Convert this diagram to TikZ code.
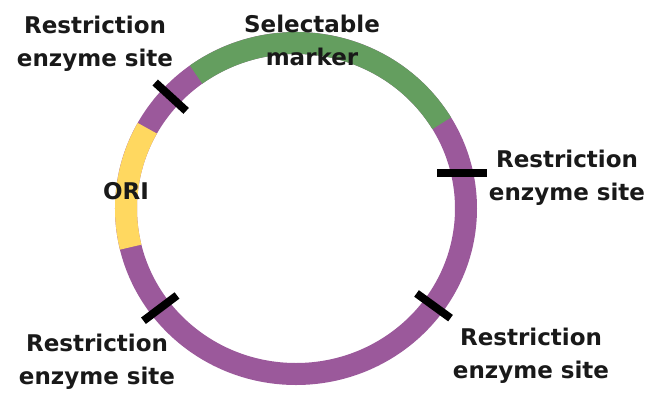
\documentclass[tikz,border=0pt]{standalone}
\usepackage{fontspec}
\setmainfont{DejaVu Sans}
\definecolor{plasmid}{RGB}{155,89,155}
\definecolor{selgreen}{RGB}{100,158,95}
\definecolor{oriyellow}{RGB}{255,216,96}
\begin{document}
\begin{tikzpicture}[x=1pt, y=1pt,
    ring/.style={line width=22pt},
    cut/.style={line width=8pt, black},
    lbl/.style={align=center, font=\fontsize{23}{33}\selectfont\bfseries, text=black!90, inner sep=0pt}]
    \useasboundingbox (-296,-183.5) rectangle (355,208.5);
    \draw[ring, plasmid] (0,0) ellipse [x radius=170, y radius=165.5];
    \draw[ring, selgreen] (126:170 and 165.5) arc[start angle=126, end angle=31, x radius=170, y radius=165.5];
    \draw[ring, oriyellow] (151:170 and 165.5) arc[start angle=151, end angle=193.5, x radius=170, y radius=165.5];
    \foreach \a in {137.5, 217, -36}
        \draw[cut, shift={(\a:170 and 165.5)}, rotate=\a] (-21,0) -- (21,0);
    \draw[cut, shift={(12.4:170 and 165.5)}] (-25,0) -- (25,0);
    \node[lbl] (siteTL) at (-201,165) {Restriction\\enzyme site};
    \node[lbl] (marker) at (16,168.5) {Selectable\\marker};
    \node[lbl] (siteR) at (271,30.5) {Restriction\\enzyme site};
    \node[lbl] (siteBR) at (235,-147) {Restriction\\enzyme site};
    \node[lbl] (siteBL) at (-199,-153) {Restriction\\enzyme site};
    \node[lbl] (ori) at (-170,17.5) {ORI};
\end{tikzpicture}
\end{document}
